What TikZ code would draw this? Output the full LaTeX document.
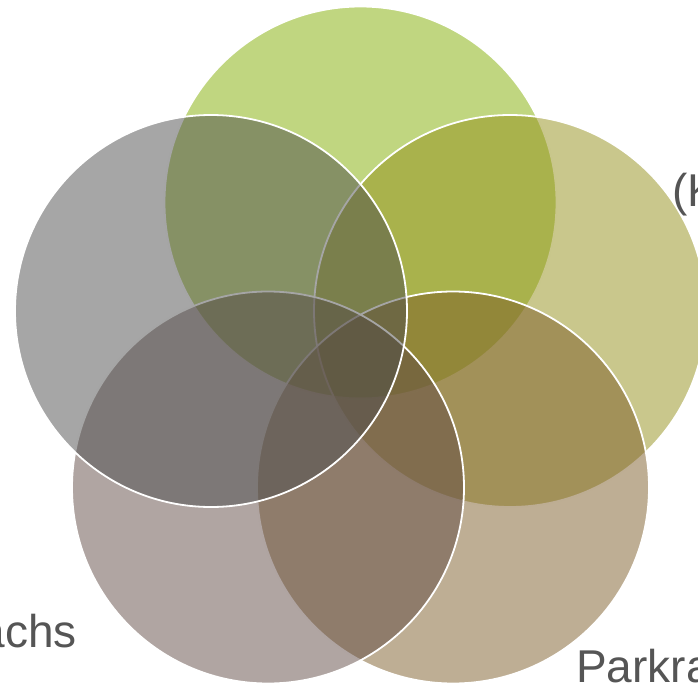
\documentclass[tikz,border=0pt]{standalone}
\usepackage{fontspec}
\setmainfont{Liberation Sans}
\definecolor{cgreen}{RGB}{129,173,1}
\definecolor{colive}{RGB}{147,143,25}
\definecolor{ctan}{RGB}{125,93,41}
\definecolor{cmauve}{RGB}{97,75,69}
\definecolor{cgray}{RGB}{77,77,77}
\definecolor{txt}{RGB}{85,85,85}
\tikzset{
  venn/.style={circle, minimum size=392pt, inner sep=0pt, fill=#1, fill opacity=0.5, draw=white, draw opacity=1, line width=1.8pt},
  lbl/.style={text=txt, font=\fontsize{46}{50}\selectfont, inner sep=0pt}
}
\begin{document}
\begin{tikzpicture}[x=1pt,y=-1pt]
\useasboundingbox (0,0) rectangle (698,685);
\node[venn=cgreen] (green) at (360.5,202.5) {};
\node[venn=colive] (olive) at (510,311) {};
\node[venn=ctan] (tan) at (453,487.5) {};
\node[venn=cmauve] (mauve) at (268,487.5) {};
\node[venn=cgray] (gray) at (211,311) {};
\node[lbl, anchor=base west] (k) at (672,206) {(K};
\node[lbl, anchor=base east] (achs) at (77,647) {achs};
\node[lbl, anchor=base west] (park) at (576,682) {Parkra};
\end{tikzpicture}
\end{document}
